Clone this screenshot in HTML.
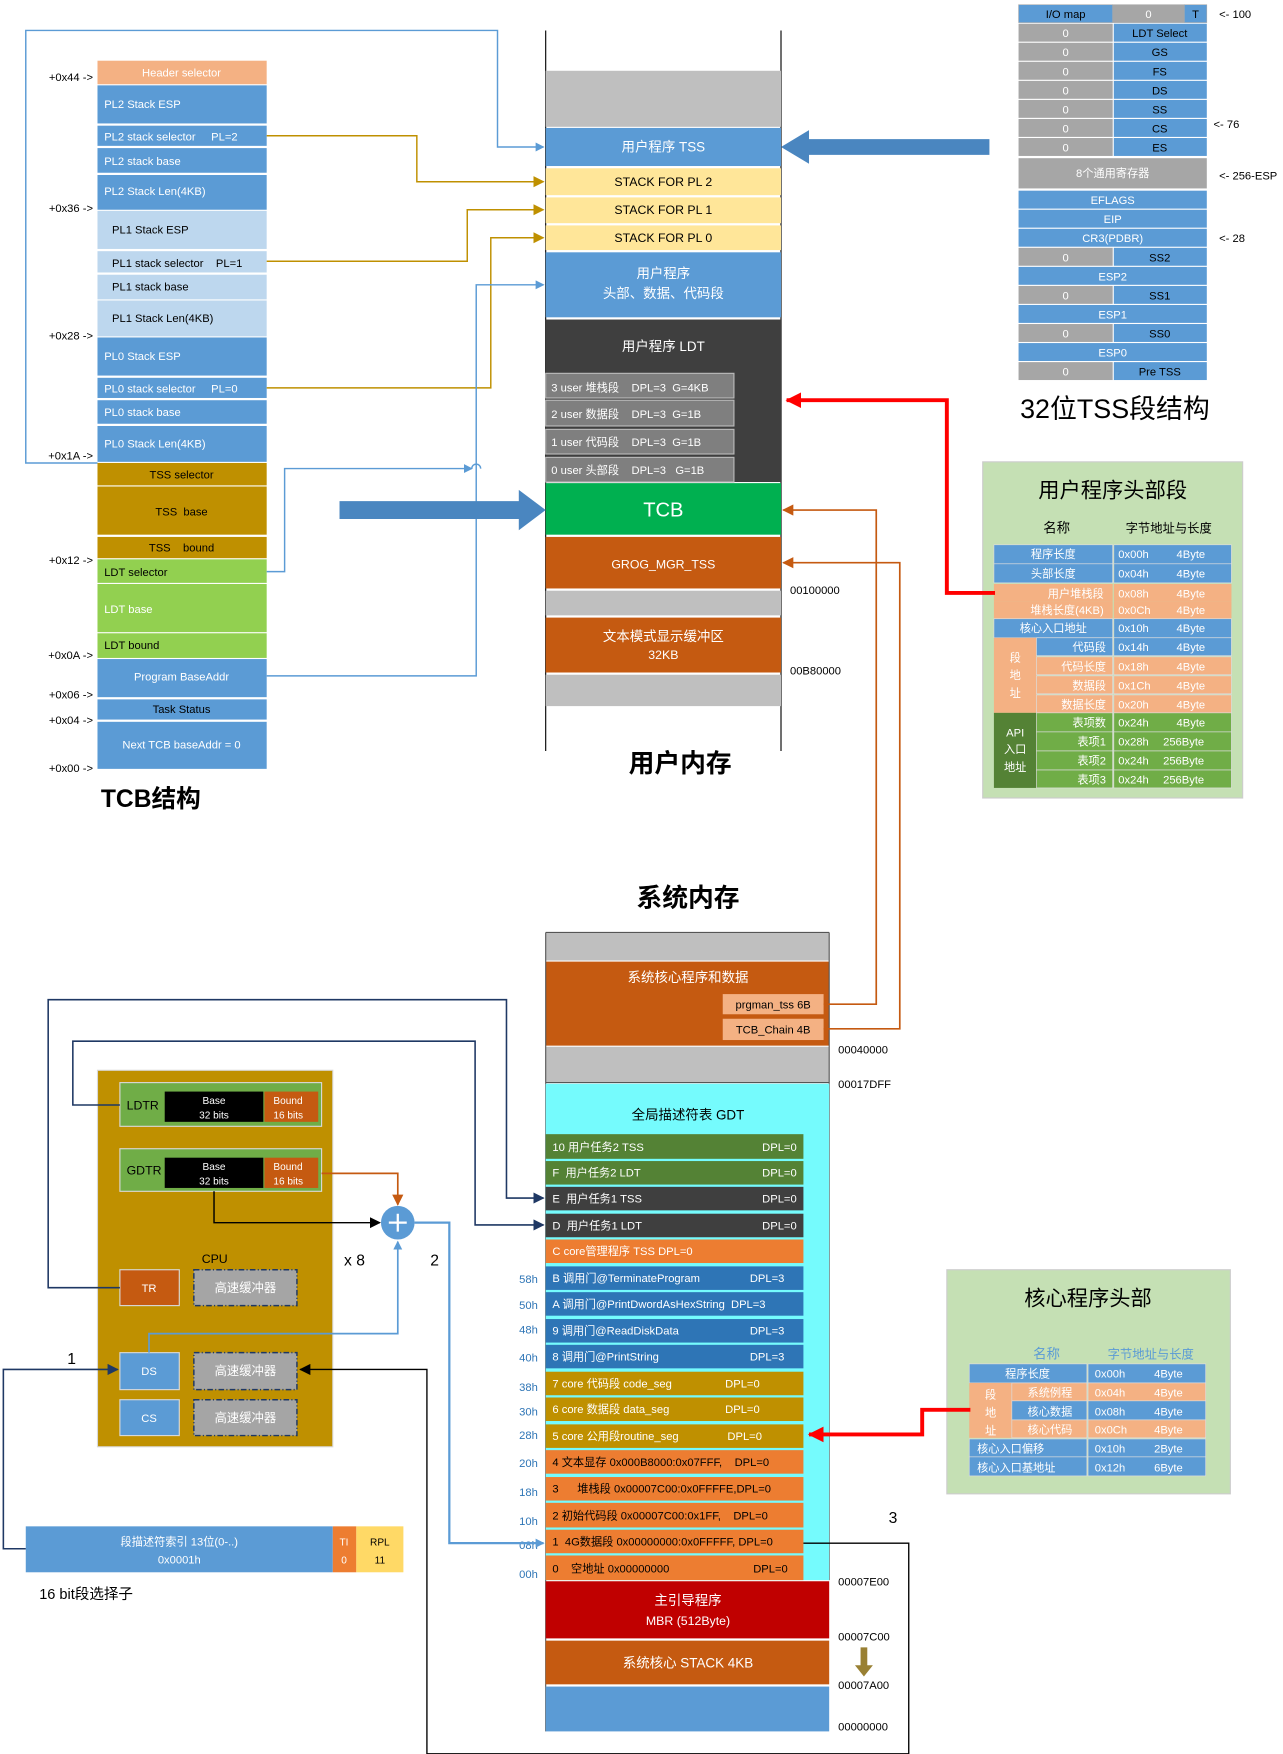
<!DOCTYPE html>
<html><head><meta charset="utf-8"><style>
html,body{margin:0;padding:0;background:#fff;}
svg{display:block;}
text{font-family:"Liberation Sans","Noto Sans CJK SC",sans-serif;}
</style></head><body>
<svg width="1283" height="1754" viewBox="0 0 1145 1565" xmlns="http://www.w3.org/2000/svg">
<defs>
<marker id="ab" markerWidth="8" markerHeight="8" refX="7" refY="4" orient="auto" markerUnits="userSpaceOnUse"><path d="M0,0 L8,4 L0,8 z" fill="#5b9bd5"/></marker>
<marker id="ag" markerWidth="10" markerHeight="10" refX="9" refY="5" orient="auto" markerUnits="userSpaceOnUse"><path d="M0,0 L10,5 L0,10 z" fill="#bf9000"/></marker>
<marker id="an" markerWidth="10" markerHeight="10" refX="9" refY="5" orient="auto" markerUnits="userSpaceOnUse"><path d="M0,0 L10,5 L0,10 z" fill="#1f3864"/></marker>
<marker id="ao" markerWidth="10" markerHeight="10" refX="9" refY="5" orient="auto" markerUnits="userSpaceOnUse"><path d="M0,0 L10,5 L0,10 z" fill="#c55a11"/></marker>
<marker id="ak" markerWidth="10" markerHeight="10" refX="9" refY="5" orient="auto" markerUnits="userSpaceOnUse"><path d="M0,0 L10,5 L0,10 z" fill="#000"/></marker>
<marker id="ar" markerWidth="14" markerHeight="14" refX="13" refY="7" orient="auto" markerUnits="userSpaceOnUse"><path d="M0,0 L14,7 L0,14 z" fill="#f00"/></marker>
</defs>
<rect width="1145" height="1565" fill="#fff"/>

<!-- TCB column -->
<g font-size="10" fill="#fff">
<rect x="87" y="54" width="151" height="21" fill="#f4b183"/><text x="162" y="68" text-anchor="middle">Header selector</text>
<rect x="87" y="76" width="151" height="34" fill="#5b9bd5"/><text x="93" y="96">PL2 Stack ESP</text>
<rect x="87" y="112" width="151" height="18" fill="#5b9bd5"/><text x="93" y="125">PL2 stack selector&#160;&#160;&#160;&#160;&#160;PL=2</text>
<rect x="87" y="132" width="151" height="22" fill="#5b9bd5"/><text x="93" y="147">PL2 stack base</text>
<rect x="87" y="156" width="151" height="31" fill="#5b9bd5"/><text x="93" y="174">PL2 Stack Len(4KB)</text>
<g fill="#000">
<rect x="87" y="188" width="151" height="34" fill="#bdd7ee"/><text x="100" y="208">PL1 Stack ESP</text>
<rect x="87" y="224" width="151" height="19" fill="#bdd7ee"/><text x="100" y="238">PL1 stack selector&#160;&#160;&#160;&#160;PL=1</text>
<rect x="87" y="245" width="151" height="22" fill="#bdd7ee"/><text x="100" y="259">PL1 stack base</text>
<rect x="87" y="268" width="151" height="32" fill="#bdd7ee"/><text x="100" y="287">PL1 Stack Len(4KB)</text>
</g>
<rect x="87" y="301" width="151" height="34" fill="#5b9bd5"/><text x="93" y="321">PL0 Stack ESP</text>
<rect x="87" y="337" width="151" height="18" fill="#5b9bd5"/><text x="93" y="350">PL0 stack selector&#160;&#160;&#160;&#160;&#160;PL=0</text>
<rect x="87" y="357" width="151" height="21" fill="#5b9bd5"/><text x="93" y="371">PL0 stack base</text>
<rect x="87" y="380" width="151" height="32" fill="#5b9bd5"/><text x="93" y="399">PL0 Stack Len(4KB)</text>
<g fill="#000">
<rect x="87" y="413" width="151" height="20" fill="#bf9000"/><text x="162" y="427" text-anchor="middle">TSS selector</text>
<rect x="87" y="434" width="151" height="43" fill="#bf9000"/><text x="162" y="460" text-anchor="middle">TSS&#160;&#160;base</text>
<rect x="87" y="479" width="151" height="19" fill="#bf9000"/><text x="162" y="492" text-anchor="middle">TSS&#160;&#160;&#160;&#160;bound</text>
<rect x="87" y="499" width="151" height="21" fill="#92d050"/><text x="93" y="514" fill="#000">LDT selector</text>
</g>
<rect x="87" y="521" width="151" height="43" fill="#92d050"/><text x="93" y="547">LDT base</text>
<rect x="87" y="565" width="151" height="22" fill="#92d050"/><text x="93" y="579" fill="#000">LDT bound</text>
<rect x="87" y="588" width="151" height="34" fill="#5b9bd5"/><text x="162" y="607" text-anchor="middle">Program BaseAddr</text>
<rect x="87" y="624" width="151" height="18" fill="#5b9bd5"/><text x="162" y="636" text-anchor="middle" fill="#000">Task Status</text>
<rect x="87" y="644" width="151" height="42" fill="#5b9bd5"/><text x="162" y="668" text-anchor="middle">Next TCB baseAddr = 0</text>
</g>
<g font-size="10" fill="#000" text-anchor="end">
<text x="83" y="72">+0x44 -&gt;</text><text x="83" y="189">+0x36 -&gt;</text><text x="83" y="303">+0x28 -&gt;</text>
<text x="83" y="410">+0x1A -&gt;</text><text x="83" y="503">+0x12 -&gt;</text><text x="83" y="588">+0x0A -&gt;</text>
<text x="83" y="623">+0x06 -&gt;</text><text x="83" y="646">+0x04 -&gt;</text><text x="83" y="689">+0x00 -&gt;</text>
</g>
<text x="90" y="720" font-size="22" font-weight="bold">TCB结构</text>

<!-- user memory -->
<line x1="487" y1="27" x2="487" y2="670" stroke="#000"/>
<line x1="697" y1="27" x2="697" y2="670" stroke="#000"/>
<rect x="487" y="63" width="210" height="50" fill="#bfbfbf"/>
<rect x="487" y="114" width="210" height="34" fill="#5b9bd5"/><text x="592" y="135" fill="#fff" font-size="12" text-anchor="middle">用户程序 TSS</text>
<g font-size="11" text-anchor="middle" fill="#000">
<rect x="487" y="150" width="210" height="24" fill="#ffe699"/><text x="592" y="166">STACK FOR PL 2</text>
<rect x="487" y="176" width="210" height="23" fill="#ffe699"/><text x="592" y="191">STACK FOR PL 1</text>
<rect x="487" y="201" width="210" height="22" fill="#ffe699"/><text x="592" y="216">STACK FOR PL 0</text>
</g>
<rect x="487" y="225" width="210" height="58" fill="#5b9bd5"/>
<text x="592" y="248" fill="#fff" font-size="12" text-anchor="middle">用户程序</text>
<text x="592" y="266" fill="#fff" font-size="12" text-anchor="middle">头部、数据、代码段</text>
<rect x="487" y="285" width="210" height="145" fill="#3f3f3f"/>
<text x="592" y="313" fill="#fff" font-size="12" text-anchor="middle">用户程序 LDT</text>
<g font-size="10" fill="#fff" stroke-width="0">
<rect x="487" y="333" width="168" height="22" fill="#7f7f7f" stroke="#bbb" stroke-width="1"/><text x="492" y="349">3 user 堆栈段&#160;&#160;&#160;&#160;DPL=3&#160;&#160;G=4KB</text>
<rect x="487" y="357" width="168" height="23" fill="#7f7f7f" stroke="#bbb" stroke-width="1"/><text x="492" y="373">2 user 数据段&#160;&#160;&#160;&#160;DPL=3&#160;&#160;G=1B</text>
<rect x="487" y="383" width="168" height="22" fill="#7f7f7f" stroke="#bbb" stroke-width="1"/><text x="492" y="398">1 user 代码段&#160;&#160;&#160;&#160;DPL=3&#160;&#160;G=1B</text>
<rect x="487" y="408" width="168" height="22" fill="#7f7f7f" stroke="#bbb" stroke-width="1"/><text x="492" y="423">0 user 头部段&#160;&#160;&#160;&#160;DPL=3&#160;&#160;&#160;G=1B</text>
</g>
<rect x="487" y="431" width="210" height="46" fill="#00b050"/><text x="592" y="461" fill="#fff" font-size="18" text-anchor="middle">TCB</text>
<rect x="487" y="479" width="210" height="46" fill="#c55a11"/><text x="592" y="507" fill="#fff" font-size="11" text-anchor="middle">GROG_MGR_TSS</text>
<rect x="487" y="527" width="210" height="22" fill="#bfbfbf"/>
<rect x="487" y="551" width="210" height="49" fill="#c55a11"/>
<text x="592" y="572" fill="#fff" font-size="12" text-anchor="middle">文本模式显示缓冲区</text>
<text x="592" y="588" fill="#fff" font-size="11" text-anchor="middle">32KB</text>
<rect x="487" y="602" width="210" height="28" fill="#bfbfbf"/>
<text x="705" y="530" font-size="10">00100000</text>
<text x="705" y="602" font-size="10">00B80000</text>
<text x="607" y="689" font-size="23" font-weight="bold" text-anchor="middle">用户内存</text>

<!-- connectors top -->
<polyline points="87,413 23,413 23,27 444,27 444,131 485,131" fill="none" stroke="#5b9bd5" stroke-width="1.3" marker-end="url(#ab)"/>
<polyline points="238,121 372,121 372,162 485,162" fill="none" stroke="#bf9000" stroke-width="1.3" marker-end="url(#ag)"/>
<polyline points="238,233 417,233 417,187 485,187" fill="none" stroke="#bf9000" stroke-width="1.3" marker-end="url(#ag)"/>
<polyline points="238,346 438,346 438,212 485,212" fill="none" stroke="#bf9000" stroke-width="1.3" marker-end="url(#ag)"/>
<polyline points="238,603 425,603 425,254 485,254" fill="none" stroke="#5b9bd5" stroke-width="1.3" marker-end="url(#ab)"/>
<polyline points="238,510 254,510 254,418 421,418 M429,418 485,418" fill="none" stroke="#5b9bd5" stroke-width="1.3" marker-end="url(#ab)"/>
<path d="M421,418 A4,4 0 0 1 429,418" fill="none" stroke="#5b9bd5" stroke-width="1.3"/>
<path d="M303,447 L463,447 L463,437 L487,455 L463,473 L463,463 L303,463 z" fill="#4a86c0"/>
<path d="M883,124 L722,124 L722,116 L697,131 L722,146 L722,138 L883,138 z" fill="#4a86c0"/>

<!-- TSS structure -->
<g font-size="10" text-anchor="middle" fill="#000">
<rect x="909" y="4" width="84" height="16" fill="#5b9bd5" stroke="#aaa" stroke-width="0.5"/><text x="951" y="16">I/O map</text>
<rect x="993" y="4" width="64" height="16" fill="#a6a6a6" stroke="#aaa" stroke-width="0.5"/><text x="1025" y="16" fill="#fff">0</text>
<rect x="1057" y="4" width="20" height="16" fill="#5b9bd5" stroke="#aaa" stroke-width="0.5"/><text x="1067" y="16">T</text>
</g>
<g font-size="10" text-anchor="middle">
<g fill="#fff">
<rect x="909" y="21" width="84" height="16" fill="#a6a6a6"/><text x="951" y="33">0</text>
<rect x="909" y="38" width="84" height="16" fill="#a6a6a6"/><text x="951" y="50">0</text>
<rect x="909" y="55" width="84" height="16" fill="#a6a6a6"/><text x="951" y="67">0</text>
<rect x="909" y="72" width="84" height="16" fill="#a6a6a6"/><text x="951" y="84">0</text>
<rect x="909" y="89" width="84" height="16" fill="#a6a6a6"/><text x="951" y="101">0</text>
<rect x="909" y="106" width="84" height="16" fill="#a6a6a6"/><text x="951" y="118">0</text>
<rect x="909" y="123" width="84" height="16" fill="#a6a6a6"/><text x="951" y="135">0</text>
<rect x="909" y="141" width="168" height="27" fill="#a6a6a6"/><text x="993" y="158">8个通用寄存器</text>
<rect x="909" y="221" width="84" height="16" fill="#a6a6a6"/><text x="951" y="233">0</text>
<rect x="909" y="255" width="84" height="16" fill="#a6a6a6"/><text x="951" y="267">0</text>
<rect x="909" y="289" width="84" height="16" fill="#a6a6a6"/><text x="951" y="301">0</text>
<rect x="909" y="323" width="84" height="16" fill="#a6a6a6"/><text x="951" y="335">0</text>
</g>
<g fill="#000">
<rect x="994" y="21" width="83" height="16" fill="#5b9bd5"/><text x="1035" y="33">LDT Select</text>
<rect x="994" y="38" width="83" height="16" fill="#5b9bd5"/><text x="1035" y="50">GS</text>
<rect x="994" y="55" width="83" height="16" fill="#5b9bd5"/><text x="1035" y="67">FS</text>
<rect x="994" y="72" width="83" height="16" fill="#5b9bd5"/><text x="1035" y="84">DS</text>
<rect x="994" y="89" width="83" height="16" fill="#5b9bd5"/><text x="1035" y="101">SS</text>
<rect x="994" y="106" width="83" height="16" fill="#5b9bd5"/><text x="1035" y="118">CS</text>
<rect x="994" y="123" width="83" height="16" fill="#5b9bd5"/><text x="1035" y="135">ES</text>
<rect x="994" y="221" width="83" height="16" fill="#5b9bd5"/><text x="1035" y="233">SS2</text>
<rect x="994" y="255" width="83" height="16" fill="#5b9bd5"/><text x="1035" y="267">SS1</text>
<rect x="994" y="289" width="83" height="16" fill="#5b9bd5"/><text x="1035" y="301">SS0</text>
<rect x="994" y="323" width="83" height="16" fill="#5b9bd5"/><text x="1035" y="335">Pre TSS</text>
</g>
<g fill="#fff">
<rect x="909" y="170" width="168" height="16" fill="#5b9bd5"/><text x="993" y="182">EFLAGS</text>
<rect x="909" y="187" width="168" height="16" fill="#5b9bd5"/><text x="993" y="199">EIP</text>
<rect x="909" y="204" width="168" height="16" fill="#5b9bd5"/><text x="993" y="216">CR3(PDBR)</text>
<rect x="909" y="238" width="168" height="16" fill="#5b9bd5"/><text x="993" y="250">ESP2</text>
<rect x="909" y="272" width="168" height="16" fill="#5b9bd5"/><text x="993" y="284">ESP1</text>
<rect x="909" y="306" width="168" height="16" fill="#5b9bd5"/><text x="993" y="318">ESP0</text>
</g>
</g>
<g font-size="10">
<text x="1088" y="16">&lt;- 100</text><text x="1083" y="114">&lt;- 76</text>
<text x="1088" y="160">&lt;- 256-ESP</text><text x="1088" y="216">&lt;- 28</text>
</g>
<text x="995" y="373" font-size="24" text-anchor="middle">32位TSS段结构</text>

<!-- user header box -->
<rect x="877" y="412" width="232" height="300" fill="#c5e0b4" stroke="#ccc"/>
<text x="993" y="444" font-size="19" text-anchor="middle">用户程序头部段</text>
<text x="943" y="475" font-size="12" text-anchor="middle">名称</text>
<text x="1043" y="475" font-size="11" text-anchor="middle">字节地址与长度</text>
<g font-size="10" fill="#fff">
<rect x="887" y="486" width="106" height="17" fill="#5b9bd5" stroke="#ddd" stroke-width="0.6"/><text x="940" y="498" text-anchor="middle">程序长度</text>
<rect x="887" y="503" width="106" height="17" fill="#5b9bd5" stroke="#ddd" stroke-width="0.6"/><text x="940" y="515" text-anchor="middle">头部长度</text>
<rect x="887" y="521" width="106" height="16" fill="#f4b183"/><text x="985" y="533" text-anchor="end">用户堆栈段</text>
<rect x="887" y="537" width="106" height="15" fill="#f4b183"/><text x="985" y="548" text-anchor="end">堆栈长度(4KB)</text>
<rect x="887" y="552" width="106" height="17" fill="#5b9bd5" stroke="#ddd" stroke-width="0.6"/><text x="940" y="564" text-anchor="middle">核心入口地址</text>
<rect x="887" y="569" width="38" height="67" fill="#f4b183"/>
<text x="906" y="590" text-anchor="middle">段</text><text x="906" y="606" text-anchor="middle">地</text><text x="906" y="622" text-anchor="middle">址</text>
<rect x="925" y="569" width="68" height="16" fill="#5b9bd5" stroke="#ddd" stroke-width="0.6"/><text x="987" y="581" text-anchor="end">代码段</text>
<rect x="925" y="586" width="68" height="16" fill="#f4b183" stroke="#ddd" stroke-width="0.6"/><text x="987" y="598" text-anchor="end">代码长度</text>
<rect x="925" y="603" width="68" height="16" fill="#f4b183" stroke="#ddd" stroke-width="0.6"/><text x="987" y="615" text-anchor="end">数据段</text>
<rect x="925" y="620" width="68" height="16" fill="#f4b183" stroke="#ddd" stroke-width="0.6"/><text x="987" y="632" text-anchor="end">数据长度</text>
<rect x="887" y="636" width="38" height="67" fill="#548235"/>
<text x="906" y="657" text-anchor="middle">API</text><text x="906" y="672" text-anchor="middle">入口</text><text x="906" y="688" text-anchor="middle">地址</text>
<rect x="925" y="636" width="68" height="17" fill="#70ad47" stroke="#ddd" stroke-width="0.6"/><text x="987" y="648" text-anchor="end">表项数</text>
<rect x="925" y="653" width="68" height="17" fill="#70ad47" stroke="#ddd" stroke-width="0.6"/><text x="987" y="665" text-anchor="end">表项1</text>
<rect x="925" y="670" width="68" height="17" fill="#70ad47" stroke="#ddd" stroke-width="0.6"/><text x="987" y="682" text-anchor="end">表项2</text>
<rect x="925" y="687" width="68" height="16" fill="#70ad47" stroke="#ddd" stroke-width="0.6"/><text x="987" y="699" text-anchor="end">表项3</text>
<rect x="994" y="486" width="105" height="17" fill="#5b9bd5" stroke="#ddd" stroke-width="0.6"/><text x="998" y="498">0x00h</text><text x="1050" y="498">4Byte</text>
<rect x="994" y="503" width="105" height="17" fill="#5b9bd5" stroke="#ddd" stroke-width="0.6"/><text x="998" y="515">0x04h</text><text x="1050" y="515">4Byte</text>
<rect x="994" y="521" width="105" height="16" fill="#f4b183"/><text x="998" y="533">0x08h</text><text x="1050" y="533">4Byte</text>
<rect x="994" y="537" width="105" height="15" fill="#f4b183"/><text x="998" y="548">0x0Ch</text><text x="1050" y="548">4Byte</text>
<rect x="994" y="552" width="105" height="17" fill="#5b9bd5" stroke="#ddd" stroke-width="0.6"/><text x="998" y="564">0x10h</text><text x="1050" y="564">4Byte</text>
<rect x="994" y="569" width="105" height="16" fill="#5b9bd5" stroke="#ddd" stroke-width="0.6"/><text x="998" y="581">0x14h</text><text x="1050" y="581">4Byte</text>
<rect x="994" y="586" width="105" height="16" fill="#f4b183" stroke="#ddd" stroke-width="0.6"/><text x="998" y="598">0x18h</text><text x="1050" y="598">4Byte</text>
<rect x="994" y="603" width="105" height="16" fill="#f4b183" stroke="#ddd" stroke-width="0.6"/><text x="998" y="615">0x1Ch</text><text x="1050" y="615">4Byte</text>
<rect x="994" y="620" width="105" height="16" fill="#f4b183" stroke="#ddd" stroke-width="0.6"/><text x="998" y="632">0x20h</text><text x="1050" y="632">4Byte</text>
<rect x="994" y="636" width="105" height="17" fill="#70ad47" stroke="#ddd" stroke-width="0.6"/><text x="998" y="648">0x24h</text><text x="1050" y="648">4Byte</text>
<rect x="994" y="653" width="105" height="17" fill="#70ad47" stroke="#ddd" stroke-width="0.6"/><text x="998" y="665">0x28h</text><text x="1038" y="665">256Byte</text>
<rect x="994" y="670" width="105" height="17" fill="#70ad47" stroke="#ddd" stroke-width="0.6"/><text x="998" y="682">0x24h</text><text x="1038" y="682">256Byte</text>
<rect x="994" y="687" width="105" height="16" fill="#70ad47" stroke="#ddd" stroke-width="0.6"/><text x="998" y="699">0x24h</text><text x="1038" y="699">256Byte</text>
</g>
<polyline points="888,529 845,529 845,357 702,357" fill="none" stroke="#f00" stroke-width="3.5" marker-end="url(#ar)"/>

<!-- system memory -->
<text x="614" y="809" font-size="23" font-weight="bold" text-anchor="middle">系统内存</text>
<rect x="487" y="832" width="253" height="25" fill="#bfbfbf"/>
<line x1="487" y1="832" x2="740" y2="832" stroke="#555"/>
<rect x="487" y="858" width="253" height="75" fill="#c55a11"/>
<text x="614" y="876" fill="#fff" font-size="12" text-anchor="middle">系统核心程序和数据</text>
<rect x="645" y="887" width="90" height="18" fill="#f4b183"/><text x="690" y="900" font-size="10" text-anchor="middle">prgman_tss 6B</text>
<rect x="645" y="909" width="90" height="19" fill="#f4b183"/><text x="690" y="922" font-size="10" text-anchor="middle">TCB_Chain 4B</text>
<rect x="487" y="934" width="253" height="32" fill="#bfbfbf"/>
<line x1="487" y1="966" x2="740" y2="966" stroke="#555"/>
<line x1="487" y1="832" x2="487" y2="1545" stroke="#555"/>
<line x1="740" y1="832" x2="740" y2="1410" stroke="#555"/>
<rect x="487" y="967" width="253" height="443" fill="#75fbfd"/>
<text x="614" y="999" font-size="12" text-anchor="middle">全局描述符表 GDT</text>
<g font-size="10" fill="#fff">
<rect x="487" y="1012" width="230" height="22" fill="#548235"/><text x="493" y="1027">10 用户任务2 TSS</text><text x="711" y="1027" text-anchor="end">DPL=0</text>
<rect x="487" y="1036" width="230" height="21" fill="#548235"/><text x="493" y="1050">F&#160;&#160;用户任务2 LDT</text><text x="711" y="1050" text-anchor="end">DPL=0</text>
<rect x="487" y="1059" width="230" height="21" fill="#3f3f3f"/><text x="493" y="1073">E&#160;&#160;用户任务1 TSS</text><text x="711" y="1073" text-anchor="end">DPL=0</text>
<rect x="487" y="1083" width="230" height="21" fill="#3f3f3f"/><text x="493" y="1097">D&#160;&#160;用户任务1 LDT</text><text x="711" y="1097" text-anchor="end">DPL=0</text>
<rect x="487" y="1106" width="230" height="21" fill="#ed7d31"/><text x="493" y="1120">C core管理程序 TSS DPL=0</text>
<rect x="487" y="1130" width="230" height="21" fill="#2e75b6"/><text x="493" y="1144">B 调用门@TerminateProgram</text><text x="700" y="1144" text-anchor="end">DPL=3</text>
<rect x="487" y="1153" width="230" height="21" fill="#2e75b6"/><text x="493" y="1167">A 调用门@PrintDwordAsHexString&#160;&#160;DPL=3</text>
<rect x="487" y="1177" width="230" height="21" fill="#2e75b6"/><text x="493" y="1191">9 调用门@ReadDiskData</text><text x="700" y="1191" text-anchor="end">DPL=3</text>
<rect x="487" y="1200" width="230" height="21" fill="#2e75b6"/><text x="493" y="1214">8 调用门@PrintString</text><text x="700" y="1214" text-anchor="end">DPL=3</text>
<rect x="487" y="1224" width="230" height="21" fill="#bf9000"/><text x="493" y="1238">7 core 代码段 code_seg</text><text x="678" y="1238" text-anchor="end">DPL=0</text>
<rect x="487" y="1247" width="230" height="21" fill="#bf9000"/><text x="493" y="1261">6 core 数据段 data_seg</text><text x="678" y="1261" text-anchor="end">DPL=0</text>
<rect x="487" y="1271" width="230" height="21" fill="#bf9000"/><text x="493" y="1285">5 core 公用段routine_seg</text><text x="680" y="1285" text-anchor="end">DPL=0</text>
<g fill="#000">
<rect x="487" y="1294" width="230" height="21" fill="#ed7d31"/><text x="493" y="1308">4 文本显存 0x000B8000:0x07FFF,&#160;&#160;&#160;&#160;DPL=0</text>
<rect x="487" y="1318" width="230" height="21" fill="#ed7d31"/><text x="493" y="1332">3&#160;&#160;&#160;&#160;&#160;&#160;堆栈段 0x00007C00:0x0FFFFE,DPL=0</text>
<rect x="487" y="1341" width="230" height="22" fill="#ed7d31"/><text x="493" y="1356">2 初始代码段 0x00007C00:0x1FF,&#160;&#160;&#160;&#160;DPL=0</text>
<rect x="487" y="1365" width="230" height="21" fill="#ed7d31"/><text x="493" y="1379">1&#160;&#160;4G数据段 0x00000000:0x0FFFFF, DPL=0</text>
<rect x="487" y="1388" width="230" height="22" fill="#ed7d31"/><text x="493" y="1403">0&#160;&#160;&#160;&#160;空地址 0x00000000</text><text x="703" y="1403" text-anchor="end">DPL=0</text>
</g>
</g>
<g font-size="10" fill="#2e75b6" text-anchor="end">
<text x="480" y="1145">58h</text><text x="480" y="1168">50h</text><text x="480" y="1190">48h</text><text x="480" y="1215">40h</text>
<text x="480" y="1241">38h</text><text x="480" y="1263">30h</text><text x="480" y="1284">28h</text><text x="480" y="1309">20h</text>
<text x="480" y="1335">18h</text><text x="480" y="1361">10h</text><text x="480" y="1382">08h</text><text x="480" y="1408">00h</text>
</g>
<rect x="487" y="1411" width="253" height="51" fill="#c00000"/>
<text x="614" y="1432" fill="#fff" font-size="12" text-anchor="middle">主引导程序</text>
<text x="614" y="1450" fill="#fff" font-size="11" text-anchor="middle">MBR (512Byte)</text>
<rect x="487" y="1464" width="253" height="39" fill="#c55a11"/>
<text x="614" y="1488" fill="#fff" font-size="12" text-anchor="middle">系统核心 STACK 4KB</text>
<rect x="487" y="1505" width="253" height="40" fill="#5b9bd5"/>
<g font-size="10">
<text x="748" y="940">00040000</text><text x="748" y="971">00017DFF</text>
<text x="748" y="1415">00007E00</text><text x="748" y="1464">00007C00</text>
<text x="748" y="1507">00007A00</text><text x="748" y="1544">00000000</text>
</g>
<path d="M768,1470 L774,1470 L774,1486 L779,1486 L771,1496 L763,1486 L768,1486 z" fill="#7f6000" opacity="0.8"/>
<text x="793" y="1359" font-size="14">3</text>

<polyline points="735,896 782,896 782,455 699,455" fill="none" stroke="#c55a11" stroke-width="1.5" marker-end="url(#ao)"/>
<polyline points="735,918 803,918 803,502 699,502" fill="none" stroke="#c55a11" stroke-width="1.5" marker-end="url(#ao)"/>

<!-- CPU -->
<rect x="87" y="955" width="210" height="336" fill="#bf9000" stroke="#d9d9d9"/>
<rect x="107" y="966" width="180" height="39" fill="#70ad47" stroke="#d9d9d9"/>
<text x="113" y="990" font-size="11">LDTR</text>
<rect x="147" y="974" width="88" height="27" fill="#000"/>
<text x="191" y="985" fill="#fff" font-size="9" text-anchor="middle">Base</text><text x="191" y="998" fill="#fff" font-size="9" text-anchor="middle">32 bits</text>
<rect x="236" y="974" width="48" height="27" fill="#c55a11"/>
<text x="244" y="985" fill="#fff" font-size="9">Bound</text><text x="244" y="998" fill="#fff" font-size="9">16 bits</text>
<rect x="107" y="1025" width="180" height="38" fill="#70ad47" stroke="#d9d9d9"/>
<text x="113" y="1048" font-size="11">GDTR</text>
<rect x="147" y="1033" width="88" height="27" fill="#000"/>
<text x="191" y="1044" fill="#fff" font-size="9" text-anchor="middle">Base</text><text x="191" y="1057" fill="#fff" font-size="9" text-anchor="middle">32 bits</text>
<rect x="236" y="1033" width="48" height="27" fill="#c55a11"/>
<text x="244" y="1044" fill="#fff" font-size="9">Bound</text><text x="244" y="1057" fill="#fff" font-size="9">16 bits</text>
<text x="180" y="1127" font-size="11">CPU</text>
<rect x="107" y="1133" width="53" height="32" fill="#c55a11" stroke="#d9d9d9"/><text x="133" y="1153" fill="#fff" font-size="10" text-anchor="middle">TR</text>
<rect x="173" y="1133" width="92" height="32" fill="#a5a5a5" stroke="#1f3864" stroke-dasharray="5,2,1,2" stroke-width="1.3"/><text x="219" y="1153" fill="#fff" font-size="11" text-anchor="middle">高速缓冲器</text>
<rect x="107" y="1207" width="53" height="33" fill="#5b9bd5" stroke="#d9d9d9"/><text x="133" y="1227" fill="#fff" font-size="10" text-anchor="middle">DS</text>
<rect x="173" y="1207" width="92" height="33" fill="#a5a5a5" stroke="#1f3864" stroke-dasharray="5,2,1,2" stroke-width="1.3"/><text x="219" y="1227" fill="#fff" font-size="11" text-anchor="middle">高速缓冲器</text>
<rect x="107" y="1249" width="53" height="32" fill="#5b9bd5" stroke="#d9d9d9"/><text x="133" y="1269" fill="#fff" font-size="10" text-anchor="middle">CS</text>
<rect x="173" y="1249" width="92" height="32" fill="#a5a5a5" stroke="#1f3864" stroke-dasharray="5,2,1,2" stroke-width="1.3"/><text x="219" y="1269" fill="#fff" font-size="11" text-anchor="middle">高速缓冲器</text>

<circle cx="355" cy="1091" r="15" fill="#5b9bd5"/>
<path d="M347,1091 H363 M355,1083 V1099" stroke="#fff" stroke-width="2"/>
<polyline points="287,1047 355,1047 355,1075" fill="none" stroke="#c55a11" stroke-width="1.5" marker-end="url(#ao)"/>
<polyline points="191,1063 191,1091 339,1091" fill="none" stroke="#000" stroke-width="1.3" marker-end="url(#ak)"/>
<polyline points="133,1207 133,1190 355,1190 355,1108" fill="none" stroke="#5b9bd5" stroke-width="1.5" marker-end="url(#ab)"/>
<polyline points="370,1091 401,1091 401,1377 485,1377" fill="none" stroke="#5b9bd5" stroke-width="2" marker-end="url(#ab)"/>
<text x="307" y="1129" font-size="14">x 8</text>
<text x="384" y="1129" font-size="14">2</text>
<polyline points="107,1149 43,1149 43,892 452,892 452,1069 485,1069" fill="none" stroke="#1f3864" stroke-width="1.4" marker-end="url(#an)"/>
<polyline points="107,986 65,986 65,929 424,929 424,1093 485,1093" fill="none" stroke="#1f3864" stroke-width="1.4" marker-end="url(#an)"/>
<polyline points="717,1377 811,1377 811,1565 381,1565 381,1222 268,1222" fill="none" stroke="#000" stroke-width="1.2" marker-end="url(#ak)"/>

<!-- selector -->
<rect x="23" y="1362" width="274" height="41" fill="#5b9bd5"/>
<text x="160" y="1379" fill="#fff" font-size="10" text-anchor="middle">段描述符索引 13位(0-..)</text>
<text x="160" y="1395" fill="#fff" font-size="10" text-anchor="middle">0x0001h</text>
<rect x="297" y="1362" width="21" height="41" fill="#ed7d31"/>
<text x="307" y="1379" fill="#fff" font-size="9" text-anchor="middle">TI</text><text x="307" y="1395" fill="#fff" font-size="9" text-anchor="middle">0</text>
<rect x="318" y="1362" width="42" height="41" fill="#ffd966"/>
<text x="339" y="1379" font-size="9" text-anchor="middle">RPL</text><text x="339" y="1395" font-size="9" text-anchor="middle">11</text>
<polyline points="23,1382 3,1382 3,1222 105,1222" fill="none" stroke="#1f3864" stroke-width="1.4" marker-end="url(#an)"/>
<text x="60" y="1217" font-size="14">1</text>
<text x="35" y="1427" font-size="13">16 bit段选择子</text>

<!-- core header -->
<rect x="845" y="1133" width="253" height="200" fill="#c5e0b4" stroke="#ccc"/>
<text x="971" y="1165" font-size="19" text-anchor="middle">核心程序头部</text>
<text x="934" y="1212" font-size="12" fill="#5b9bd5" text-anchor="middle">名称</text>
<text x="1027" y="1212" font-size="11" fill="#5b9bd5" text-anchor="middle">字节地址与长度</text>
<g font-size="10" fill="#fff">
<rect x="865" y="1217" width="105" height="17" fill="#5b9bd5" stroke="#ddd" stroke-width="0.6"/><text x="917" y="1229" text-anchor="middle">程序长度</text>
<rect x="865" y="1234" width="38" height="49" fill="#f4b183"/>
<text x="884" y="1248" text-anchor="middle">段</text><text x="884" y="1264" text-anchor="middle">地</text><text x="884" y="1280" text-anchor="middle">址</text>
<rect x="903" y="1234" width="67" height="16" fill="#f4b183" stroke="#ddd" stroke-width="0.6"/><text x="937" y="1246" text-anchor="middle">系统例程</text>
<rect x="903" y="1250" width="67" height="17" fill="#5b9bd5" stroke="#ddd" stroke-width="0.6"/><text x="937" y="1263" text-anchor="middle">核心数据</text>
<rect x="903" y="1267" width="67" height="16" fill="#f4b183" stroke="#ddd" stroke-width="0.6"/><text x="937" y="1279" text-anchor="middle">核心代码</text>
<rect x="865" y="1284" width="105" height="16" fill="#5b9bd5" stroke="#ddd" stroke-width="0.6"/><text x="872" y="1296">核心入口偏移</text>
<rect x="865" y="1300" width="105" height="17" fill="#5b9bd5" stroke="#ddd" stroke-width="0.6"/><text x="872" y="1313">核心入口基地址</text>
<rect x="971" y="1217" width="105" height="17" fill="#5b9bd5" stroke="#ddd" stroke-width="0.6"/><text x="977" y="1229">0x00h</text><text x="1030" y="1229">4Byte</text>
<rect x="971" y="1234" width="105" height="16" fill="#f4b183" stroke="#ddd" stroke-width="0.6"/><text x="977" y="1246">0x04h</text><text x="1030" y="1246">4Byte</text>
<rect x="971" y="1250" width="105" height="17" fill="#5b9bd5" stroke="#ddd" stroke-width="0.6"/><text x="977" y="1263">0x08h</text><text x="1030" y="1263">4Byte</text>
<rect x="971" y="1267" width="105" height="16" fill="#f4b183" stroke="#ddd" stroke-width="0.6"/><text x="977" y="1279">0x0Ch</text><text x="1030" y="1279">4Byte</text>
<rect x="971" y="1284" width="105" height="16" fill="#5b9bd5" stroke="#ddd" stroke-width="0.6"/><text x="977" y="1296">0x10h</text><text x="1030" y="1296">2Byte</text>
<rect x="971" y="1300" width="105" height="17" fill="#5b9bd5" stroke="#ddd" stroke-width="0.6"/><text x="977" y="1313">0x12h</text><text x="1030" y="1313">6Byte</text>
</g>
<polyline points="866,1258 823,1258 823,1280 722,1280" fill="none" stroke="#f00" stroke-width="3.5" marker-end="url(#ar)"/>
</svg>
</body></html>
